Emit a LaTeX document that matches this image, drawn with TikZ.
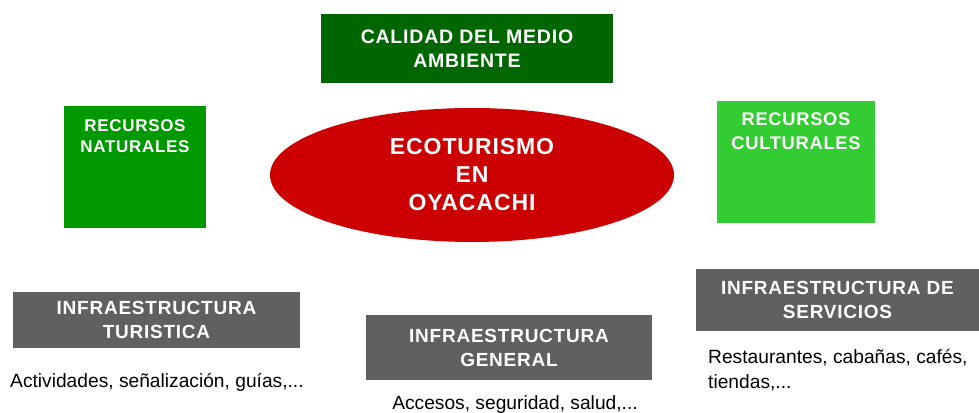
\documentclass[tikz,border=0pt]{standalone}
\usepackage{fontspec}
\setmainfont{Liberation Sans}
\newfontfamily\headfont[LetterSpace=4]{Liberation Sans}
\usetikzlibrary{shapes.geometric}
\definecolor{darkgreen}{HTML}{006600}
\definecolor{midgreen}{HTML}{009900}
\definecolor{lightgreen}{HTML}{33CC33}
\definecolor{ecored}{HTML}{CC0000}
\definecolor{boxgray}{HTML}{606060}
\tikzset{
  box/.style={fill=#1, inner sep=0pt},
  head/.style={text=white, align=center, inner sep=0pt, font=\headfont\bfseries\fontsize{19}{24}\selectfont},
  note/.style={inner sep=0pt, align=left, font=\fontsize{19.2}{25}\selectfont}
}

\begin{document}
\begin{tikzpicture}[x=1pt, y=-1pt]
\useasboundingbox (0,0) rectangle (979,412);
% centre and top
\node[box=darkgreen, head, font=\headfont\bfseries\fontsize{19.5}{24}\selectfont, minimum width=292pt, minimum height=69pt] (calidad) at (467,48.5) {CALIDAD DEL MEDIO\\AMBIENTE};
\node[ellipse, fill=ecored, head, font=\headfont\bfseries\fontsize{23}{28}\selectfont, minimum width=404pt, minimum height=134pt] (eco) at (472,175) {ECOTURISMO\\EN\\OYACACHI};
% resources
\node[box=midgreen, minimum width=142pt, minimum height=122pt] (naturales) at (135,167) {};
\node[head, font=\headfont\bfseries\fontsize{17}{21}\selectfont, anchor=north] (naturalestxt) at (135,119) {RECURSOS\\NATURALES};
\node[box=lightgreen, minimum width=158pt, minimum height=122pt] (culturales) at (796,162) {};
\node[head, font=\headfont\bfseries\fontsize{18.3}{23.5}\selectfont, anchor=north] (culturalestxt) at (796,113) {RECURSOS\\CULTURALES};
% infrastructure
\node[box=boxgray, head, minimum width=287pt, minimum height=56pt] (turistica) at (156.5,320) {INFRAESTRUCTURA\\TURISTICA};
\node[box=boxgray, head, minimum width=286pt, minimum height=65pt] (general) at (509,347.5) {INFRAESTRUCTURA\\GENERAL};
\node[box=boxgray, head, minimum width=283pt, minimum height=62pt] (servicios) at (837.5,300) {INFRAESTRUCTURA DE\\SERVICIOS};
\node[note, anchor=base west] (turnote) at (10,387) {Actividades, señalización, guías,...};
\node[note, anchor=base] (gennote) at (515,409) {Accesos, seguridad, salud,...};
\node[note, anchor=north west] (sernote) at (708,349) {Restaurantes, cabañas, cafés,\\tiendas,...};
\end{tikzpicture}
\end{document}
